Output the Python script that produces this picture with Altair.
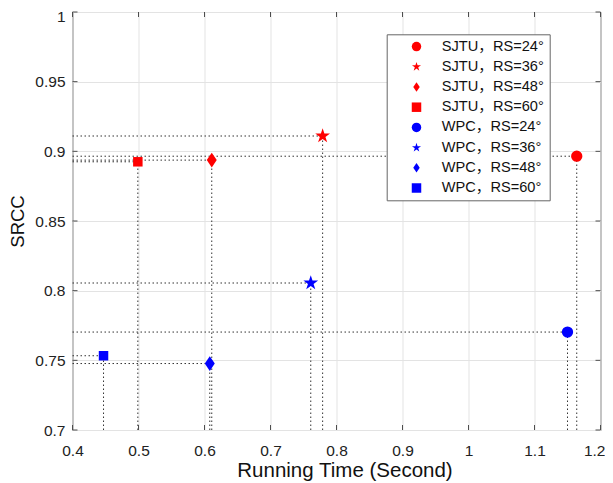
import math
import altair as alt
import pandas as pd

# ---- data ----
series = ["SJTU，RS=24°", "SJTU，RS=36°", "SJTU，RS=48°", "SJTU，RS=60°",
          "WPC，RS=24°", "WPC，RS=36°", "WPC，RS=48°", "WPC，RS=60°"]
running_time = [1.164, 0.779, 0.611, 0.499, 1.150, 0.761, 0.608, 0.447]
srcc = [0.8965, 0.911, 0.8937, 0.8925, 0.7703, 0.8055, 0.7477, 0.7533]
x_ticks = [0.4, 0.5, 0.6, 0.7, 0.8, 0.9, 1.0, 1.1, 1.2]
y_ticks = [0.7, 0.75, 0.8, 0.85, 0.9, 0.95, 1.0]
X_MIN, X_MAX = 0.4, 1.2
Y_MIN, Y_MAX = 0.7, 1.0

# ---- styles ----
def star_path():
    pts = []
    for i in range(10):
        r = 1.0 if i % 2 == 0 else 0.382
        a = math.radians(-90 + 36 * i)
        pts.append((r * math.cos(a), r * math.sin(a)))
    return "M" + "L".join(f"{x:.3f},{y:.3f}" for x, y in pts) + "Z"

STAR = star_path()
DIAMOND = "M0,-1L0.68,0L0,1L-0.68,0Z"
shapes = ["circle", STAR, DIAMOND, "square"]
shape_sizes = [128, 239, 216, 90]
shape_range = shapes * 2
color_range = ["#ff0000"] * 4 + ["#0000ff"] * 4

df = pd.DataFrame({"series": series, "x": running_time, "y": srcc})
xt = pd.DataFrame({"x": x_ticks})
yt = pd.DataFrame({"y": y_ticks})

W, H = 528, 418
FONT = "Liberation Sans, Arial, Noto Sans CJK SC, sans-serif"
xscale = alt.Scale(domain=[X_MIN, X_MAX], nice=False, zero=False)
yscale = alt.Scale(domain=[Y_MIN, Y_MAX], nice=False, zero=False)

xaxis = alt.Axis(
    values=x_ticks, format=".1~f", grid=True, ticks=False, domain=False,
    labelFlush=False, labelPadding=13, titlePadding=1.5, titleX=272,
    labelAlign={"condition": {"test": f"datum.value >= {X_MAX - 0.01}", "value": "right"}, "value": "center"},
    labelOffset={"condition": {"test": f"datum.value >= {X_MAX - 0.01}", "value": 4.5}, "value": 0},
    title="Running Time (Second)")
yaxis = alt.Axis(
    values=y_ticks, format=".2~f", grid=True, ticks=False, domain=False,
    labelFlush=False, labelPadding=7.5, titlePadding=7, title="SRCC",
    labelOffset={"condition": {"test": f"datum.value >= {Y_MAX - 0.001}", "value": 4}, "value": 0})


def X(field="x"):
    return alt.X(f"{field}:Q", scale=xscale, axis=xaxis)


def Y(field="y"):
    return alt.Y(f"{field}:Q", scale=yscale, axis=yaxis)


dot = dict(color="#333333", strokeWidth=1, strokeDash=[1.5, 2.5])

base = alt.Chart(df).transform_calculate(x0=str(X_MIN), y0=str(Y_MIN))
hlines = base.mark_rule(**dot).encode(x=X("x0"), x2=alt.X2("x:Q"), y=Y())
vlines = base.mark_rule(**dot).encode(x=X(), y=Y("y0"), y2=alt.Y2("y:Q"))

tick_style = dict(color="#4d4d4d", strokeWidth=1)
xt_bottom = alt.Chart(xt).mark_rule(**tick_style).encode(
    x=X(), y=alt.value(H), y2=alt.value(H - 5))
xt_top = alt.Chart(xt).mark_rule(**tick_style).encode(
    x=X(), y=alt.value(0), y2=alt.value(5))
yt_left = alt.Chart(yt).mark_rule(**tick_style).encode(
    y=Y(), x=alt.value(0), x2=alt.value(5))
yt_right = alt.Chart(yt).mark_rule(**tick_style).encode(
    y=Y(), x=alt.value(W), x2=alt.value(W - 5))

legend = alt.Legend(
    orient="none", legendX=314.2, legendY=22.3, title=None,
    fillColor="white", strokeColor="#666666", padding=5,
    symbolOffset=17.5, labelOffset=18, labelFontSize=14.6, labelFont=FONT,
    labelColor="#111111", rowPadding=5.2, symbolSize=90, symbolStrokeWidth=0,
    labelLimit=300,
)

color_enc = alt.Color("series:N", scale=alt.Scale(domain=series, range=color_range), legend=legend)
shape_enc = alt.Shape("series:N", scale=alt.Scale(domain=series, range=shape_range), legend=legend)

point_layers = []
for i, s in enumerate(shape_sizes):
    point_layers.append(
        alt.Chart(df)
        .transform_filter(alt.FieldOneOfPredicate(field="series", oneOf=[series[i], series[i + 4]]))
        .mark_point(filled=True, opacity=1, strokeWidth=0, size=s)
        .encode(x=X(), y=Y(), color=color_enc, shape=shape_enc)
    )

chart = alt.layer(hlines, vlines, xt_bottom, xt_top, yt_left, yt_right, *point_layers).properties(
    width=W, height=H,
    autosize=alt.AutoSizeParams(type="none"),
    padding={"left": 64.5, "top": 4, "right": 4.5, "bottom": 52},
).configure_view(
    stroke="#4d4d4d", strokeWidth=1
).configure_axis(
    gridColor="#e3e3e3", gridWidth=1,
    labelFont=FONT, labelFontSize=15.5, labelColor="#222222",
    titleFont=FONT, titleFontWeight="normal", titleColor="#111111",
).configure_axisX(
    titleFontSize=20.5
).configure_axisY(
    titleFontSize=18.5
)

chart.save("out.html", embed_options={"renderer": "svg", "actions": False})
